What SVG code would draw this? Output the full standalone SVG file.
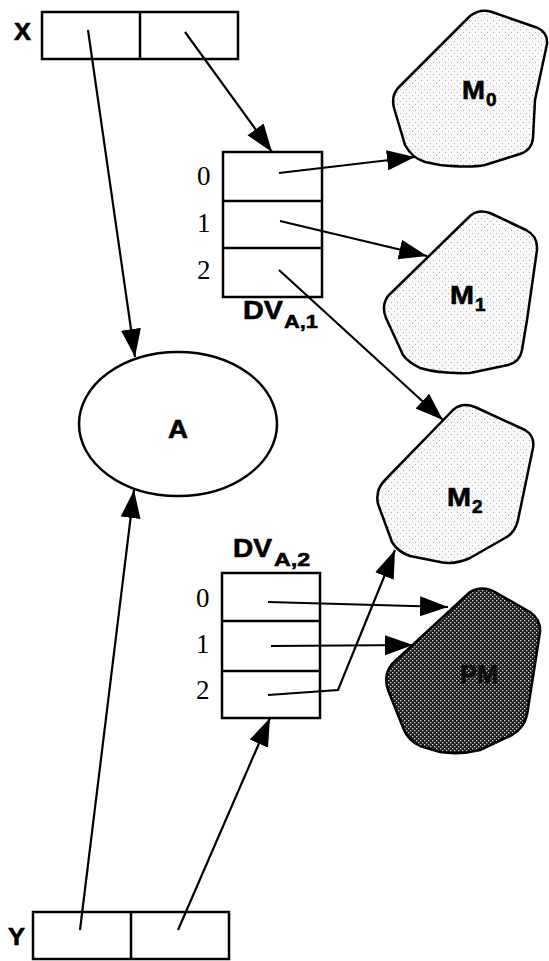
<svg xmlns="http://www.w3.org/2000/svg" width="549" height="961" viewBox="0 0 549 961">
  <style>
    .box { fill: #fff; stroke: #000; stroke-width: 2.5; }
    .div { stroke: #000; stroke-width: 2.5; }
    .blob { stroke: #000; stroke-width: 2.5; stroke-linejoin: round; }
    .edge { fill: none; stroke: #000; stroke-width: 2.2; marker-end: url(#arrow); }
    .sans { font-family: "Liberation Sans", Arial, sans-serif; font-weight: bold; fill: #000; stroke: #000; stroke-width: 0.6; }
    .lg { font-size: 26px; }
    .md { font-size: 24px; }
    .sub { font-size: 19px; }
    .serif { font-family: "Liberation Serif", "Times New Roman", serif; font-size: 27px; fill: #000; }
    .dark { fill: #0c0c0c; stroke: #0c0c0c; }
  </style>
  <defs>
    <marker id="arrow" markerUnits="userSpaceOnUse" markerWidth="30" markerHeight="22" refX="28" refY="10" orient="auto">
      <path d="M0,0 L28,10 L0,20 Z" fill="#000"/>
    </marker>
    <!-- light stipple for memory regions -->
    <pattern id="stipple" width="6" height="6" patternUnits="userSpaceOnUse">
      <rect width="6" height="6" fill="#f8f8f8"/>
      <rect x="1" y="2" width="1" height="1" fill="#aaa"/>
      <rect x="4" y="5" width="1" height="1" fill="#bbb"/>
    </pattern>
    <!-- dark halftone for PM -->
    <pattern id="halftone" width="4" height="4" patternUnits="userSpaceOnUse">
      <rect width="4" height="4" fill="#1a1a1a"/>
      <rect x="0" y="0" width="1.3" height="1.3" fill="#ddd"/>
      <rect x="2" y="2" width="1.3" height="1.3" fill="#ddd"/>
    </pattern>
  </defs>

  <!-- X pair -->
  <g id="X">
    <text class="sans md" x="14" y="40" textLength="17" lengthAdjust="spacingAndGlyphs">X</text>
    <rect class="box" x="42" y="12" width="196" height="47"/>
    <line class="div" x1="140" y1="12" x2="140" y2="59"/>
  </g>

  <!-- Y pair -->
  <g id="Y">
    <text class="sans md" x="8" y="945" textLength="17" lengthAdjust="spacingAndGlyphs">Y</text>
    <rect class="box" x="33" y="912" width="196" height="47"/>
    <line class="div" x1="131" y1="912" x2="131" y2="959"/>
  </g>

  <!-- object A -->
  <g id="A">
    <ellipse cx="178" cy="424" rx="99" ry="72" fill="#fff" stroke="#000" stroke-width="2.5"/>
    <text class="sans lg" x="168" y="438" textLength="20" lengthAdjust="spacingAndGlyphs">A</text>
  </g>

  <!-- dispatch vector DV A,1 -->
  <g id="DVA1">
    <rect class="box" x="223" y="152" width="99" height="145"/>
    <line class="div" x1="223" y1="201" x2="322" y2="201"/>
    <line class="div" x1="223" y1="248" x2="322" y2="248"/>
    <text class="serif" x="197" y="185">0</text>
    <text class="serif" x="197" y="232">1</text>
    <text class="serif" x="197" y="279">2</text>
    <text class="sans lg" x="243" y="319" textLength="40" lengthAdjust="spacingAndGlyphs">DV</text>
    <text class="sans sub" x="284" y="328" textLength="34" lengthAdjust="spacingAndGlyphs">A,1</text>
  </g>

  <!-- dispatch vector DV A,2 -->
  <g id="DVA2">
    <text class="sans lg" x="233" y="557" textLength="39" lengthAdjust="spacingAndGlyphs">DV</text>
    <text class="sans sub" x="274" y="566" textLength="36" lengthAdjust="spacingAndGlyphs">A,2</text>
    <rect class="box" x="222" y="573" width="98" height="145"/>
    <line class="div" x1="222" y1="621" x2="320" y2="621"/>
    <line class="div" x1="222" y1="671" x2="320" y2="671"/>
    <text class="serif" x="196" y="607">0</text>
    <text class="serif" x="196" y="653">1</text>
    <text class="serif" x="196" y="699">2</text>
  </g>

  <!-- memory regions -->
  <g id="M0">
    <path class="blob" fill="url(#stipple)" d="M470,16 Q480,8 492,12 L538,28 Q548,33 547,44 L535,100 L533,138 Q532,150 520,154 L485,165 Q470,168 440,165 L425,162 Q412,158 405,145 L394,108 Q391,96 398,88 Z"/>
    <text class="sans lg" x="462" y="99" textLength="23" lengthAdjust="spacingAndGlyphs">M</text>
    <text class="sans sub" x="486" y="106">0</text>
  </g>
  <g id="M1">
    <path class="blob" fill="url(#stipple)" d="M470,216 Q478,209 490,213 L526,230 Q538,236 537,250 L527,320 L522,350 Q520,362 508,365 L470,373 Q440,374 420,368 Q408,362 403,355 L386,318 Q381,306 388,296 Z"/>
    <text class="sans lg" x="450" y="304" textLength="24" lengthAdjust="spacingAndGlyphs">M</text>
    <text class="sans sub" x="475" y="311">1</text>
  </g>
  <g id="M2">
    <path class="blob" fill="url(#stipple)" d="M453,410 Q462,402 475,407 L525,430 Q535,436 533,448 L518,520 Q515,533 505,538 L470,558 Q455,565 440,562 L410,556 Q398,552 392,542 L378,504 Q375,490 385,480 Z"/>
    <text class="sans lg" x="447" y="506" textLength="24" lengthAdjust="spacingAndGlyphs">M</text>
    <text class="sans sub" x="472" y="513">2</text>
  </g>
  <g id="PM">
    <path class="blob" fill="url(#halftone)" d="M470,592 Q482,585 495,592 L530,612 Q541,620 540,632 L527,715 Q524,728 512,735 L480,750 Q460,755 440,752 L420,746 Q408,740 404,730 L388,690 Q383,675 392,664 Z"/>
    <text class="sans lg dark" x="460" y="683" textLength="38" lengthAdjust="spacingAndGlyphs">PM</text>
  </g>

  <!-- connectors -->
  <g id="connectors">
    <line class="edge" x1="88" y1="30" x2="135" y2="357"/>
    <line class="edge" x1="185" y1="32" x2="272" y2="152"/>
    <line class="edge" x1="279" y1="173" x2="415" y2="157"/>
    <line class="edge" x1="280" y1="221" x2="427" y2="256"/>
    <line class="edge" x1="279" y1="270" x2="443" y2="420"/>
    <line class="edge" x1="268" y1="602" x2="448" y2="607"/>
    <line class="edge" x1="271" y1="646" x2="413" y2="645"/>
    <polyline class="edge" points="268,695 338,690 395,550"/>
    <line class="edge" x1="80" y1="930" x2="134" y2="490"/>
    <line class="edge" x1="178" y1="930" x2="270" y2="718"/>
  </g>
</svg>
